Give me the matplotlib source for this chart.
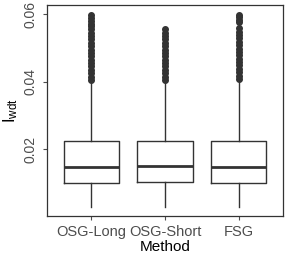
import matplotlib
matplotlib.use("Agg")
import matplotlib.pyplot as plt

plt.rcParams['font.family'] = ['Liberation Sans', 'DejaVu Sans']
plt.rcParams['mathtext.fontset'] = 'custom'
plt.rcParams['mathtext.rm'] = 'Liberation Sans'
plt.rcParams['mathtext.it'] = 'Liberation Sans'

methods = ['OSG-Long', 'OSG-Short', 'FSG']
q1 = [0.0100, 0.0103, 0.0100]
median = [0.0148, 0.0151, 0.0148]
q3 = [0.0224, 0.0224, 0.0224]
whislo = [0.0029, 0.0029, 0.0029]
whishi = [0.0403, 0.0403, 0.0406]

# outliers (dense columns of points)
out_long = [0.0406, 0.0415, 0.0425, 0.0435, 0.0445, 0.0455, 0.0465, 0.0475,
            0.0485, 0.0495, 0.0505, 0.0515, 0.0525, 0.0535, 0.0545, 0.0555,
            0.0565, 0.0572, 0.0580, 0.0588, 0.0596]
out_short = [0.0406, 0.0415, 0.0425, 0.0435, 0.0445, 0.0455, 0.0465, 0.0475,
             0.0485, 0.0495, 0.0505, 0.0515, 0.0525, 0.0535, 0.0545, 0.0555]
out_fsg = [0.0409, 0.0418, 0.0428, 0.0438, 0.0448, 0.0458, 0.0468, 0.0478,
           0.0488, 0.0498, 0.0508, 0.0518, 0.0528, 0.0538, 0.0548, 0.0558,
           0.0576, 0.0584, 0.0591, 0.0597]
outliers = [out_long, out_short, out_fsg]

stats = []
for i, m in enumerate(methods):
    stats.append({'label': m, 'q1': q1[i], 'med': median[i], 'q3': q3[i],
                  'whislo': whislo[i], 'whishi': whishi[i], 'fliers': outliers[i]})

fig = plt.figure(figsize=(2.9, 2.6), dpi=100)
ax = fig.add_axes([47 / 290, 44 / 260, 236 / 290, 211 / 260])

dark = '#333333'
ax.bxp(stats, positions=[1, 2, 3], widths=0.75, showcaps=False,
       boxprops=dict(color=dark, linewidth=1.0),
       whiskerprops=dict(color=dark, linewidth=1.0),
       medianprops=dict(color=dark, linewidth=2.0),
       flierprops=dict(marker='o', markersize=4, markerfacecolor=dark,
                       markeredgecolor=dark, linestyle='none'))

ax.set_xlim(0.4, 3.6)
ax.set_ylim(0.00015, 0.0627)
ax.set_yticks([0.02, 0.04, 0.06])
ax.set_yticklabels(['0.02', '0.04', '0.06'], rotation=90, va='center')
ax.tick_params(axis='both', colors='#4d4d4d', labelsize=10, length=3, width=0.8)
ax.tick_params(axis='x', labelsize=10.5)
for s in ax.spines.values():
    s.set_color('#333333')
    s.set_linewidth(0.9)

ax.set_xlabel('Method', fontsize=11, labelpad=1)
ax.set_ylabel(r'$\mathrm{I}_{\mathrm{wdt}}$', fontsize=12, labelpad=3)

fig.savefig('out.png', dpi=100)
